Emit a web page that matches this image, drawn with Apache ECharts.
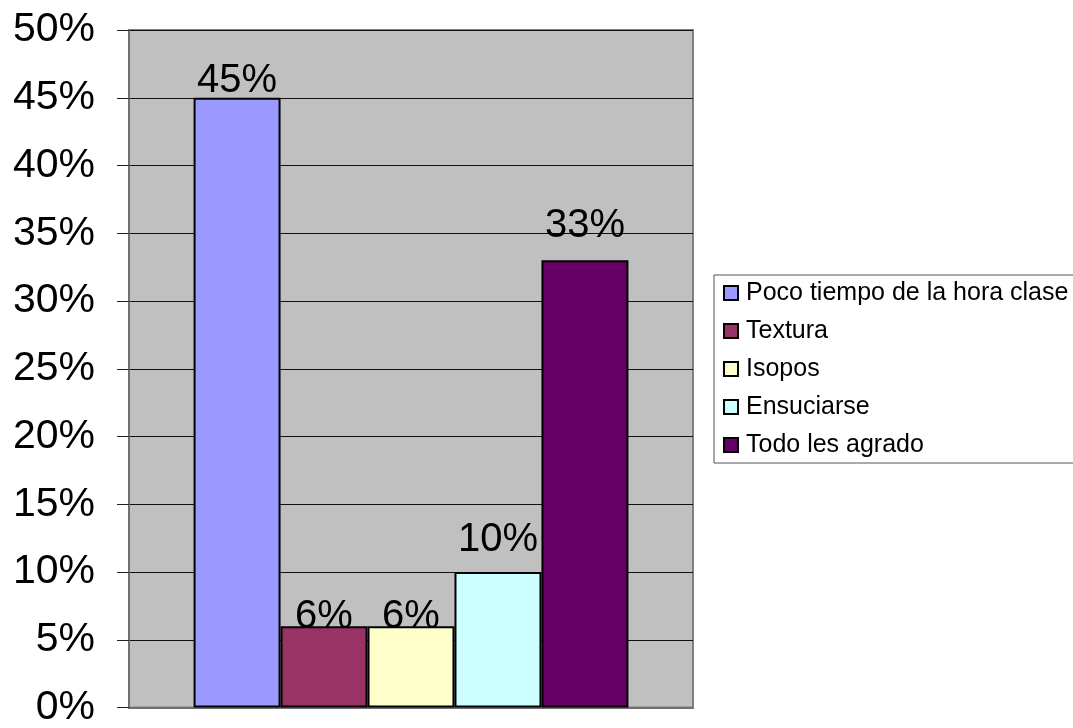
<!DOCTYPE html>
<html>
<head>
<meta charset="utf-8">
<script src="https://cdn.jsdelivr.net/npm/echarts@6/dist/echarts.min.js"></script>
<style>
  html, body { margin: 0; padding: 0; background: #fff; }
  #chart { width: 1073px; height: 728px; }
</style>
</head>
<body>
<div id="chart"></div>
<script>
const categories = ['']
const seriesNames = ['Poco tiempo de la hora clase', 'Textura', 'Isopos', 'Ensuciarse', 'Todo les agrado']
const values = [45, 6, 6, 10, 33]
const yTicks = [0, 5, 10, 15, 20, 25, 30, 35, 40, 45, 50]

const palette = ['#9999FF', '#993366', '#FFFFCC', '#CCFFFF', '#660066']
// Excel put the labels at odd heights, so each one gets its own distance
const labelDistance = [-3, -11, -11, 12, 14]

const chart = echarts.init(document.getElementById('chart'))

chart.setOption({
  animation: false,
  textStyle: { fontFamily: 'Liberation Sans, Arial, sans-serif' },
  grid: {
    left: 129,
    top: 30,
    right: 380,
    bottom: 16,
    show: true,
    backgroundColor: '#C0C0C0',
    borderColor: '#808080',
    borderWidth: 2
  },
  legend: {
    orient: 'vertical',
    left: 714,
    top: 275,
    padding: [5, 30, 5, 9],
    itemWidth: 14,
    itemHeight: 14,
    itemGap: 12,
    borderColor: '#555',
    borderWidth: 1,
    backgroundColor: '#fff',
    itemStyle: { borderColor: '#000', borderWidth: 2 },
    data: seriesNames.map(n => ({ name: n, icon: 'rect' })),
    textStyle: { fontSize: 25, color: '#000', lineHeight: 26, padding: [0, 0, 0, 3] }
  },
  xAxis: {
    type: 'category',
    data: categories,
    axisLine: { show: true, lineStyle: { color: '#707070', width: 2 } },
    axisTick: { show: false },
    axisLabel: { show: false },
    splitLine: { show: false }
  },
  yAxis: {
    type: 'value',
    min: yTicks[0],
    max: yTicks[yTicks.length - 1],
    interval: 5,
    axisLine: { show: true, lineStyle: { color: '#707070', width: 2 } },
    axisTick: { show: true, length: 12, lineStyle: { color: '#222' } },
    axisLabel: {
      margin: 34,
      fontSize: 41,
      color: '#000',
      formatter: '{value}%'
    },
    splitLine: { show: true, lineStyle: { color: '#111', width: 1 } }
  },
  series: seriesNames.map((name, i) => ({
    name: name,
    type: 'bar',
    data: [values[i]],
    barGap: '0%',
    barCategoryGap: '22.9%',
    itemStyle: { color: palette[i], borderColor: '#000', borderWidth: 2 },
    label: {
      show: true,
      position: 'top',
      distance: labelDistance[i],
      fontSize: 40,
      color: '#000',
      formatter: '{c}%'
    }
  }))
})
</script>
</body>
</html>
